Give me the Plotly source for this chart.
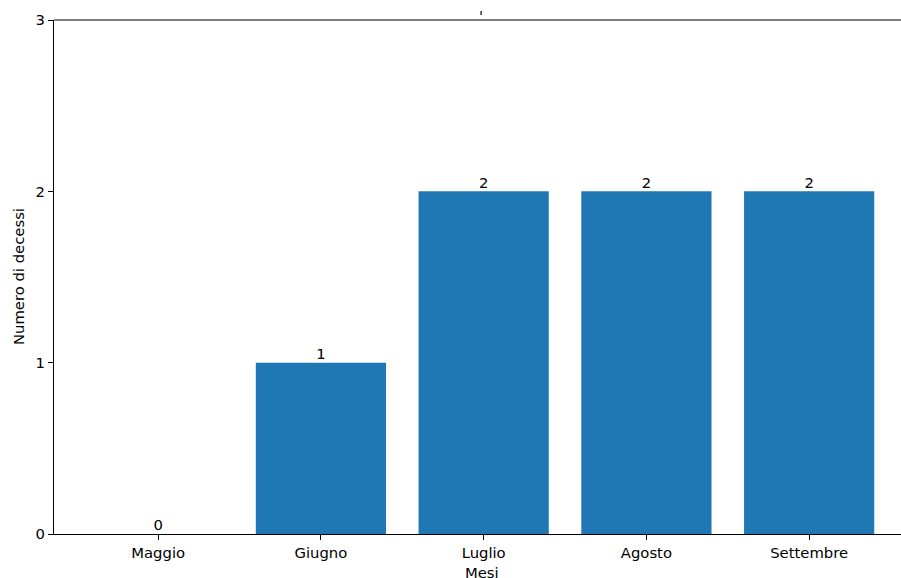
import plotly.graph_objects as go

mesi = ["Maggio", "Giugno", "Luglio", "Agosto", "Settembre"]
decessi = [0, 1, 2, 2, 2]
y_ticks = [0, 1, 2, 3]

W, H = 901, 578
L, T, B = 54, 20, 44
step = 162.75
xr = [-0.64, -0.64 + (W - L) / step]

font = dict(family="DejaVu Sans", size=14.8, color="#000000")

fig = go.Figure()
fig.add_trace(go.Bar(x=list(range(len(mesi))), y=decessi, width=0.8,
                     marker=dict(color="#1f77b4", line=dict(width=0)),
                     hoverinfo="skip"))
fig.add_trace(go.Scatter(x=list(range(len(mesi))), y=decessi, mode="text",
                         text=[str(v) for v in decessi], textposition="top center",
                         textfont=font, cliponaxis=False, hoverinfo="skip"))

fig.update_layout(
    width=W, height=H,
    margin=dict(l=L, r=0, t=T, b=B, pad=0, autoexpand=False),
    plot_bgcolor="white", paper_bgcolor="white",
    showlegend=False,
    font=font,
    bargap=0.2,
    shapes=[dict(type="line", xref="paper", yref="paper", x0=0, x1=1, y0=1, y1=1,
                 line=dict(color="#000", width=1))],
    annotations=[
        dict(text="'", xref="paper", yref="paper", x=(481 - L) / (W - L), y=1,
             yshift=-6, xanchor="center", yanchor="bottom", showarrow=False, font=font),
        dict(text="Mesi", xref="paper", yref="paper", x=(482 - L) / (W - L), y=0,
             yshift=-38, xanchor="center", yanchor="middle", showarrow=False, font=font),
        dict(text="Numero di decessi", xref="paper", yref="paper", x=0, xshift=-36,
             y=0.5, textangle=-90, xanchor="center", yanchor="middle",
             showarrow=False, font=font),
    ],
)
fig.update_xaxes(
    range=xr, tickvals=list(range(len(mesi))), ticktext=mesi,
    showgrid=False, zeroline=False, automargin=False,
    showline=True, linecolor="#000", linewidth=1,
    ticks="outside", ticklen=5, tickcolor="#000", tickwidth=1,
    tickfont=font,
)
fig.update_yaxes(
    range=[0, 3], tickvals=y_ticks, ticktext=[str(v) for v in y_ticks],
    showgrid=False, zeroline=False, automargin=False,
    showline=True, linecolor="#000", linewidth=1,
    ticks="outside", ticklen=5, tickcolor="#000", tickwidth=1,
    tickfont=font,
)
fig.write_html("out.html", config={"displayModeBar": False},
               post_script="document.body.style.margin='0';document.body.style.overflow='hidden';")
